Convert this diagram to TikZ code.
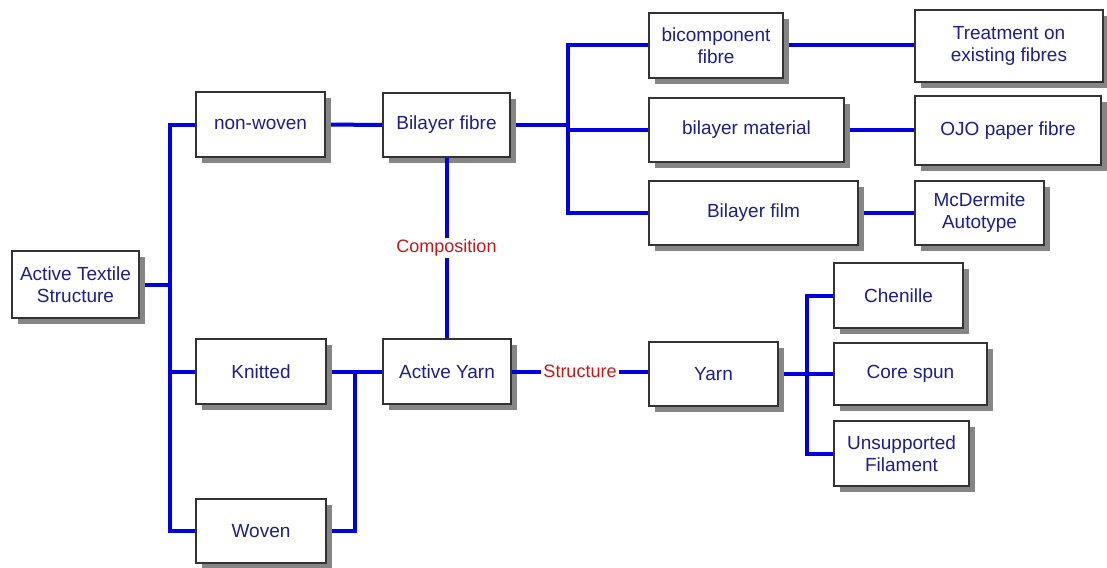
\documentclass[tikz,border=0pt]{standalone}
\usepackage{fontspec}
\setmainfont{Liberation Sans}
\usepackage{xcolor}
\usetikzlibrary{positioning, shadows, backgrounds, calc}

\definecolor{txtblue}{RGB}{30,30,140}
\definecolor{linkblue}{RGB}{0,0,225}
\definecolor{lblred}{RGB}{195,25,25}

\begin{document}
\begin{tikzpicture}[
    x=1pt, y=-1pt,
    box/.style={rectangle, fill=white, draw=black!80, line width=1.2pt,
                align=center, text=txtblue, font=\fontsize{19}{22}\selectfont,
                inner sep=2pt,
                drop shadow={shadow xshift=6pt, shadow yshift=-6pt,
                             fill=black!48, opacity=1}},
    link/.style={linkblue, line width=4pt, line join=miter},
    lbl/.style={fill=white, text=lblred, inner sep=2pt,
                font=\fontsize{18}{21}\selectfont},
]
\useasboundingbox (0,0) rectangle (1107,567);

% Root and first level
\node[box, minimum width=127pt, minimum height=67pt] (ats) at (75.5,284.5) {Active Textile\\Structure};
\node[box, minimum width=129pt, minimum height=65pt] (nonwoven) at (260.5,124.5) {non-woven};
\node[box, minimum width=130pt, minimum height=65pt] (knitted) at (261,371.5) {Knitted};
\node[box, minimum width=130pt, minimum height=64pt] (woven) at (261,531) {Woven};

% Fibre branch (top)
\node[box, minimum width=127pt, minimum height=64pt] (bilfibre) at (446.5,125) {Bilayer fibre};
\node[box, minimum width=134pt, minimum height=65pt] (bicomp) at (716,45.5) {bicomponent\\fibre};
\node[box, minimum width=195pt, minimum height=64pt] (bilmat) at (746.5,130) {bilayer material};
\node[box, minimum width=209pt, minimum height=64pt] (bilfilm) at (753.5,213) {Bilayer film};
\node[box, minimum width=188pt, minimum height=72pt] (treat) at (1009,46) {Treatment on\\existing fibres};
\node[box, minimum width=186pt, minimum height=69pt] (ojo) at (1008,130.5) {OJO paper fibre};
\node[box, minimum width=129pt, minimum height=64pt] (mcd) at (979.5,213) {McDermite\\Autotype};

% Yarn branch (bottom)
\node[box, minimum width=128pt, minimum height=65pt] (actyarn) at (447,371.5) {Active Yarn};
\node[box, minimum width=129pt, minimum height=64pt] (yarn) at (713.5,374) {Yarn};
\node[box, minimum width=129pt, minimum height=65pt] (chenille) at (898.5,295.5) {Chenille};
\node[box, minimum width=153pt, minimum height=62pt] (corespun) at (910.5,374) {Core spun};
\node[box, minimum width=135pt, minimum height=65pt] (unsup) at (901.5,453.5) {Unsupported\\Filament};

% Junction points
\coordinate (jroot) at (170,284.5);
\coordinate (jfibre) at (568,125);
\coordinate (jknit) at (355,371.5);
\coordinate (jyarn) at (807,374);

\begin{scope}[on background layer]
\draw[link] (ats.east) -- (jroot);
\draw[link] (nonwoven.west) -| (jroot) |- (woven.west);
\draw[link] (jroot |- knitted.west) -- (knitted.west);
\draw[link] (nonwoven.east) -- (bilfibre.west);
\draw[link] (bilfibre.east) -- (jfibre);
\draw[link] (bicomp.west) -| (jfibre) |- (bilfilm.west);
\draw[link] (jfibre |- bilmat.west) -- (bilmat.west);
\draw[link] (bicomp.east) -- (treat.west |- bicomp.east);
\draw[link] (bilmat.east) -- (ojo.west |- bilmat.east);
\draw[link] (bilfilm.east) -- (mcd.west);
\draw[link] (knitted.east) -- (actyarn.west);
\draw[link] (jknit) |- (woven.east);
\draw[link] (yarn.east) -- (jyarn);
\draw[link] (chenille.west) -| (jyarn) |- (unsup.west);
\draw[link] (jyarn |- corespun.west) -- (corespun.west);
\end{scope}

% Relations between the branches
\draw[link] (bilfibre.south) -- node[lbl] (comp) {Composition} (bilfibre.south |- actyarn.north);
\draw[link] (actyarn.east) -- node[lbl] (struct) {Structure} (actyarn.east -| yarn.west);

\end{tikzpicture}
\end{document}
